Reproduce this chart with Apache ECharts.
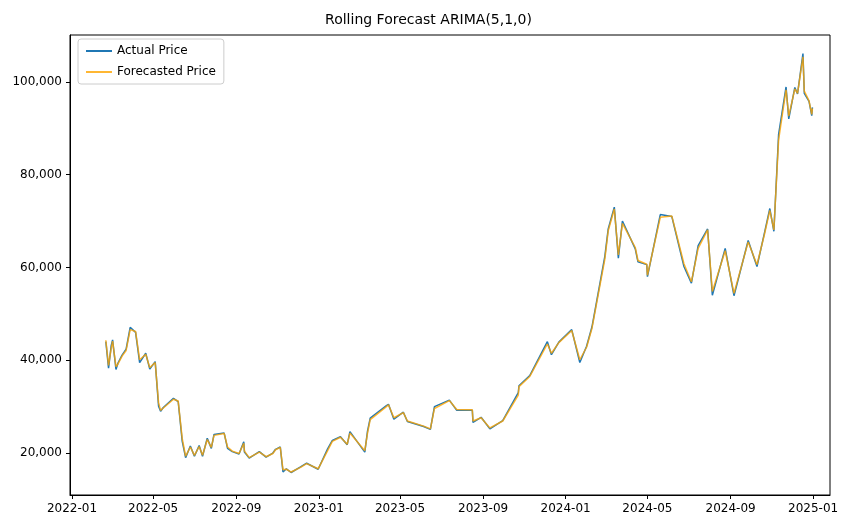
<!DOCTYPE html>
<html>
<head>
<meta charset="utf-8">
<script src="https://cdn.jsdelivr.net/npm/echarts@6/dist/echarts.min.js"></script>
<style>html,body{margin:0;padding:0;background:#fff}#main{width:857px;height:528px}</style>
</head>
<body>
<div id="main"></div>
<script>
var dates = ['2022-02-20','2022-02-24','2022-02-28','2022-03-02','2022-03-07','2022-03-10','2022-03-16','2022-03-22','2022-03-28','2022-04-05','2022-04-11','2022-04-20','2022-04-26','2022-05-04','2022-05-09','2022-05-12','2022-05-16','2022-05-31','2022-06-07','2022-06-13','2022-06-18','2022-06-25','2022-07-01','2022-07-08','2022-07-13','2022-07-20','2022-07-26','2022-07-30','2022-08-14','2022-08-19','2022-08-26','2022-09-05','2022-09-12','2022-09-13','2022-09-20','2022-10-05','2022-10-15','2022-10-25','2022-10-29','2022-11-05','2022-11-09','2022-11-14','2022-11-21','2022-12-05','2022-12-14','2022-12-31','2023-01-14','2023-01-21','2023-02-02','2023-02-12','2023-02-16','2023-03-10','2023-03-14','2023-03-18','2023-04-11','2023-04-14','2023-04-22','2023-05-06','2023-05-12','2023-06-05','2023-06-15','2023-06-21','2023-07-13','2023-07-24','2023-08-16','2023-08-17','2023-08-29','2023-09-11','2023-09-30','2023-10-23','2023-10-24','2023-11-09','2023-12-05','2023-12-11','2023-12-22','2024-01-10','2024-01-11','2024-01-22','2024-02-01','2024-02-09','2024-02-15','2024-02-28','2024-03-04','2024-03-13','2024-03-19','2024-03-25','2024-04-13','2024-04-17','2024-04-30','2024-05-01','2024-05-20','2024-06-06','2024-06-24','2024-07-05','2024-07-15','2024-07-29','2024-08-05','2024-08-24','2024-09-06','2024-09-27','2024-10-10','2024-10-21','2024-10-29','2024-11-04','2024-11-11','2024-11-22','2024-11-26','2024-12-05','2024-12-09','2024-12-17','2024-12-19','2024-12-26','2024-12-30','2024-12-31'];
var actual = [44000,38300,43200,44400,38000,39400,41100,42400,47100,46000,39500,41500,38100,39700,30100,29000,29800,31800,31100,22500,19000,21500,19300,21600,19300,23200,21000,24000,24300,21000,20300,19800,22400,20200,18900,20300,19100,20000,20800,21300,15900,16600,15800,17000,17800,16500,20900,22700,23500,21800,24600,20200,24700,27500,30200,30500,27300,28800,26800,25700,25100,30000,31400,29200,29200,26600,27700,25200,27000,33000,34500,36700,44000,41200,43900,46600,46300,39500,43000,47200,52000,62400,68300,73000,62000,70000,64000,61200,60600,58000,71400,71000,60200,56600,64700,68300,54000,64100,53900,65800,60200,67400,72700,67800,88700,98900,92000,98800,97400,106100,97500,95800,92700,94500];
var forecast = [44300,38900,42600,44100,38600,39200,40900,42100,46600,46200,40100,41300,38400,39500,30800,29200,29700,31600,31200,23100,19300,21300,19500,21400,19500,22900,21200,23800,24200,21300,20400,19900,22100,20400,19000,20200,19200,19900,20700,21200,16400,16500,15900,16900,17700,16600,20500,22500,23400,21900,24300,20500,24300,27200,30000,30400,27600,28700,26900,25800,25200,29600,31300,29400,29300,26900,27600,25400,26900,32500,34300,36500,43500,41500,43800,46400,46400,40100,42800,46900,51600,61800,67900,72600,62700,69500,64300,61500,60700,58300,70800,71100,60800,56900,64100,68100,54800,63600,54400,65500,60600,67100,72300,68100,87500,98300,92600,98500,97500,105400,98000,95900,93000,94300];
var xTicks = ['2022-01-01','2022-05-01','2022-09-01','2023-01-01','2023-05-01','2023-09-01','2024-01-01','2024-05-01','2024-09-01','2025-01-01'];
var yTicks = [20000, 40000, 60000, 80000, 100000];

var chart = echarts.init(document.getElementById('main'));
function ts(d) { return +new Date(d + 'T00:00:00Z'); }
var tickTs = xTicks.map(ts);
function pairs(vals) {
  return dates.map(function (d, i) { return [ts(d), vals[i]]; });
}
var font = 'DejaVu Sans';
chart.setOption({
  animation: false,
  title: {
    text: 'Rolling Forecast ARIMA(5,1,0)', left: 'center', top: 8,
    textStyle: { fontFamily: font, fontSize: 14, fontWeight: 'normal', color: '#000' }
  },
  legend: {
    left: 78, top: 39, orient: 'vertical', itemWidth: 26, itemHeight: 2, itemGap: 9,
    backgroundColor: '#fff', borderColor: '#ccc', borderWidth: 1, borderRadius: 3, padding: [6, 8],
    textStyle: { fontFamily: font, fontSize: 12, color: '#000' },
    data: [{ name: 'Actual Price', icon: 'rect' }, { name: 'Forecasted Price', icon: 'rect' }]
  },
  grid: { left: 70, right: 27, top: 35, bottom: 33, show: true, borderColor: '#000', borderWidth: 1 },
  xAxis: {
    type: 'value',
    min: ts('2021-12-29'), max: ts('2025-01-26'),
    axisLine: { lineStyle: { color: '#000' } },
    splitLine: { show: false },
    axisTick: { customValues: tickTs, length: 4, lineStyle: { color: '#000' } },
    axisLabel: {
      customValues: tickTs, color: '#000', fontFamily: font, fontSize: 12, margin: 8,
      formatter: function (v) { var d = new Date(v); return d.getUTCFullYear() + '-' + String(d.getUTCMonth() + 1).padStart(2, '0'); }
    }
  },
  yAxis: {
    type: 'value', min: 10950, max: 110100,
    axisLine: { show: true, lineStyle: { color: '#000' } },
    splitLine: { show: false },
    axisTick: { show: true, customValues: yTicks, length: 4, lineStyle: { color: '#000' } },
    axisLabel: { color: '#000', fontFamily: font, fontSize: 12, customValues: yTicks }
  },
  series: [
    { name: 'Actual Price', type: 'line', data: pairs(actual), showSymbol: false,
      itemStyle: { color: '#1f77b4' }, lineStyle: { width: 1.5, color: '#1f77b4' } },
    { name: 'Forecasted Price', type: 'line', data: pairs(forecast), showSymbol: false,
      itemStyle: { color: 'rgba(255,165,0,0.8)' }, lineStyle: { width: 1.5, color: 'rgba(255,165,0,0.8)' } }
  ]
});
</script>
</body>
</html>
